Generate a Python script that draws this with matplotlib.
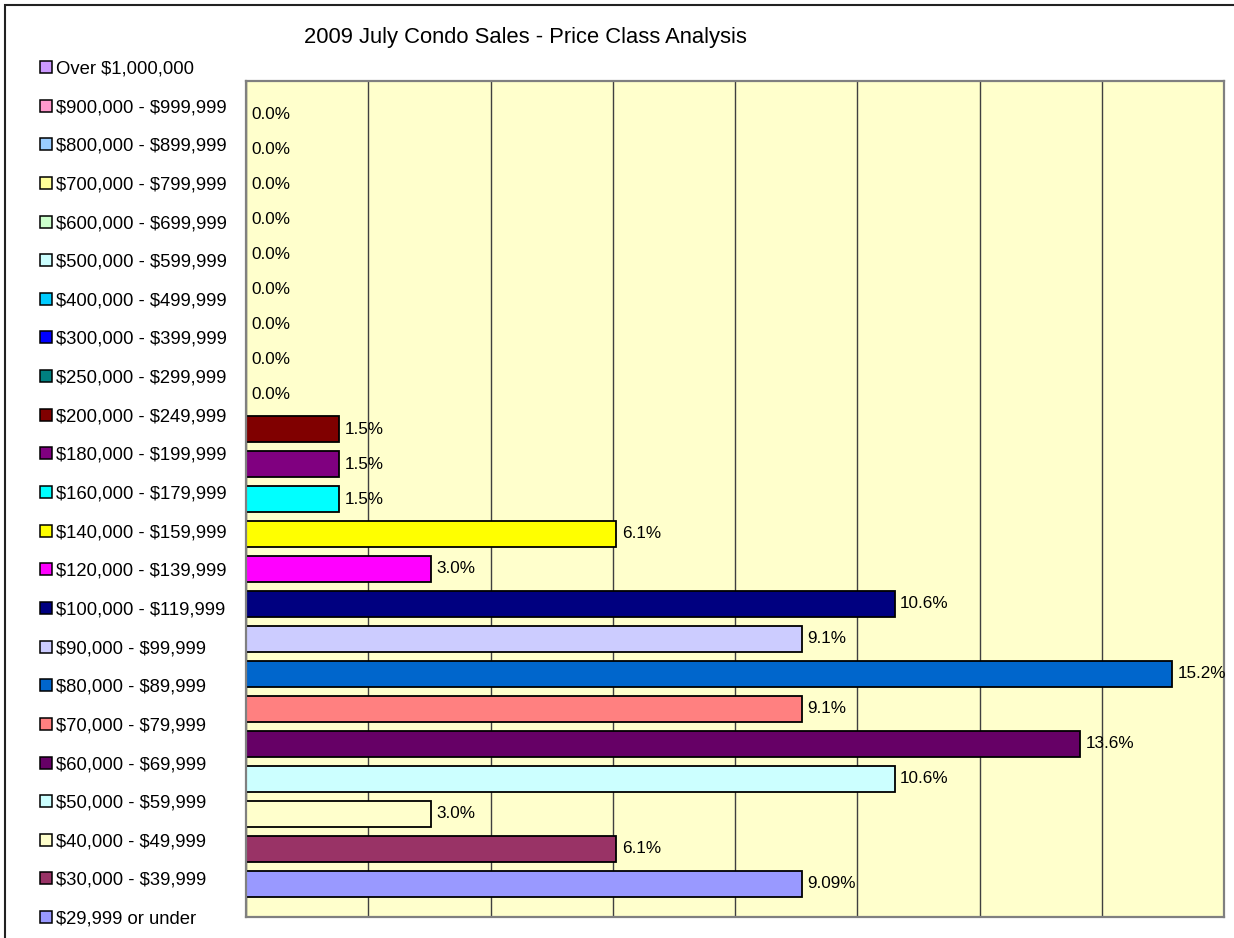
"""2009 July condo sales, share of sales by price class (Excel-style bar chart)."""
import matplotlib
matplotlib.use("Agg")
import matplotlib.pyplot as plt
from matplotlib.patches import Rectangle

# bottom row first (row 0 = "$29,999 or under")
classes = [
    "$29,999 or under", "$30,000 - $39,999", "$40,000 - $49,999", "$50,000 - $59,999",
    "$60,000 - $69,999", "$70,000 - $79,999", "$80,000 - $89,999", "$90,000 - $99,999",
    "$100,000 - $119,999", "$120,000 - $139,999", "$140,000 - $159,999",
    "$160,000 - $179,999", "$180,000 - $199,999", "$200,000 - $249,999",
    "$250,000 - $299,999", "$300,000 - $399,999", "$400,000 - $499,999",
    "$500,000 - $599,999", "$600,000 - $699,999", "$700,000 - $799,999",
    "$800,000 - $899,999", "$900,000 - $999,999", "Over $1,000,000",
]
share = [9.09, 6.06, 3.03, 10.61, 13.64, 9.09, 15.15, 9.09, 10.61, 3.03, 6.06,
         1.52, 1.52, 1.52, 0, 0, 0, 0, 0, 0, 0, 0, 0]
bar_labels = ["9.09%", "6.1%", "3.0%", "10.6%", "13.6%", "9.1%", "15.2%", "9.1%",
              "10.6%", "3.0%", "6.1%", "1.5%", "1.5%", "1.5%", "0.0%", "0.0%",
              "0.0%", "0.0%", "0.0%", "0.0%", "0.0%", "0.0%", "0.0%"]
colors = ["#9999FF", "#993366", "#FFFFCC", "#CCFFFF", "#660066", "#FF8080", "#0066CC",
          "#CCCCFF", "#000080", "#FF00FF", "#FFFF00", "#00FFFF", "#800080", "#800000",
          "#008080", "#0000FF", "#00CCFF", "#CCFFFF", "#CCFFCC", "#FFFF99", "#99CCFF",
          "#FF99CC", "#CC99FF"]

plt.rcParams["font.family"] = ["Liberation Sans", "DejaVu Sans"]
plt.rcParams["text.parse_math"] = False  # keep the "$" signs literal

W, H = 1234, 938
fig = plt.figure(figsize=(W / 100, H / 100), dpi=100)

def fx(px):
    return px / W

def fy(px):
    return 1 - px / H

# chart-area border (runs off the right and bottom edges like the source)
fig.add_artist(Rectangle((fx(5), fy(945)), fx(1240), 940 / H, transform=fig.transFigure,
                         fill=False, edgecolor="#222222", linewidth=1.5))

ax = fig.add_axes([fx(246), fy(917), fx(978), 836 / H])
ax.set_facecolor("#FFFFCC")
rows = list(range(len(classes)))
lw = [1.3 if v > 0 else 0 for v in share]
ax.barh(rows, share, height=0.76, color=colors, edgecolor="black", linewidth=lw, zorder=2)

for r, v, lab in zip(rows, share, bar_labels):
    ax.annotate(lab, xy=(v, r), xytext=(4, 0), textcoords="offset points",
                ha="left", va="center", fontsize=12.3, color="black",
                annotation_clip=False, zorder=3)

ax.set_xlim(0, 16)
ax.set_ylim(-0.943, len(classes) - 1 + 0.943)
ax.set_xticks(range(0, 17, 2))
ax.set_yticks([])
ax.tick_params(axis="x", length=0, labelbottom=False)
ax.grid(axis="x", color="#404040", linewidth=1.0)
ax.set_axisbelow(True)
for s in ax.spines.values():
    s.set_edgecolor("#808080")
    s.set_linewidth(1.6)

# legend, drawn Excel style in the left margin (top entry first)
for i, (lab, c) in enumerate(zip(classes[::-1], colors[::-1])):
    yc = 67 + i * 38.64
    fig.add_artist(Rectangle((fx(39.5), fy(yc + 6)), fx(12), 12 / H,
                             transform=fig.transFigure, facecolor=c,
                             edgecolor="black", linewidth=1.1))
    fig.text(fx(56), fy(yc), lab, ha="left", va="center_baseline",
             fontsize=13.3, color="black")

fig.text(fx(525), fy(43.3), "2009 July Condo Sales - Price Class Analysis",
         ha="center", va="baseline", fontsize=15.8, color="black")

fig.savefig("out.png", dpi=100, facecolor="white")
